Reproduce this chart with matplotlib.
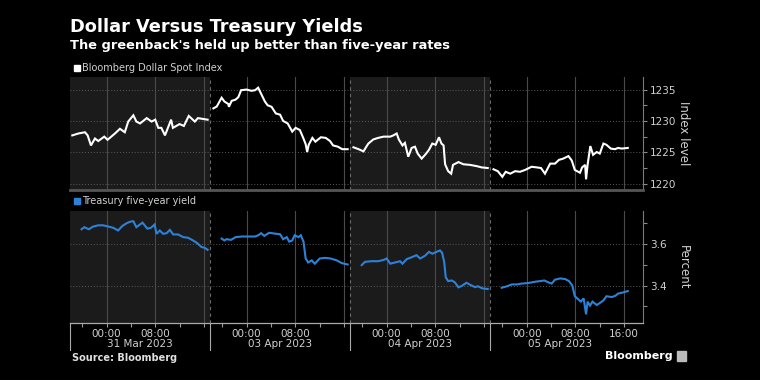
import numpy as np
import matplotlib.pyplot as plt
from matplotlib.patches import Rectangle
from matplotlib.transforms import blended_transform_factory

# Data -------------------------------------------------------------------------
# hours are counted from the 18:00 session open (previous day)

sessions = ["31 Mar 2023", "03 Apr 2023", "04 Apr 2023", "05 Apr 2023"]

dollar_mar31_h = [0.38, 1.37, 2.46, 2.9, 3.44, 4.1, 4.64, 5.63, 6.17, 7.38, 8.2, 9.0, 9.56, 10.4, 10.9,
                  11.5, 12.6, 13.4, 14.0, 14.5, 15.0, 15.6, 16.6, 16.9, 18.0, 18.7, 19.5, 20.5, 21.0, 22.6]
dollar_mar31 = [1227.7, 1228.0, 1228.2, 1227.7, 1226.1, 1227.2, 1226.8, 1227.5, 1227.0, 1228.0, 1228.75,
                1228.2, 1229.9, 1230.9, 1229.9, 1229.6, 1230.45, 1229.9, 1230.2, 1228.9, 1228.9, 1227.7,
                1230.2, 1228.9, 1229.5, 1229.2, 1230.8, 1229.9, 1230.45, 1230.2]

dollar_apr03_h = [0.55, 1.1, 1.9, 2.35, 3.0, 3.1, 3.55, 4.2, 4.65, 5.1, 6.0, 6.8, 7.4, 7.9, 8.4, 9.0, 9.45,
                  10.1, 10.8, 11.5, 12.0, 12.75, 13.5, 14.05, 14.75, 15.3, 15.7, 15.95, 16.2, 16.8, 17.3,
                  18.2, 19.0, 19.7, 20.2, 21.0, 21.7, 22.6]
dollar_apr03 = [1232.0, 1232.3, 1233.7, 1233.1, 1232.7, 1232.25, 1233.2, 1233.4, 1233.8, 1234.9, 1235.0,
                1234.8, 1234.9, 1235.3, 1234.3, 1233.1, 1232.5, 1232.25, 1231.2, 1231.0, 1230.0, 1229.6,
                1228.3, 1228.9, 1228.55, 1227.3, 1226.3, 1225.05, 1226.2, 1227.3, 1226.7, 1227.4, 1227.3,
                1226.8, 1226.1, 1225.9, 1225.5, 1225.5]

dollar_apr04_h = [0.55, 1.4, 2.2, 2.6, 3.0, 3.8, 4.6, 5.5, 6.6, 7.1, 7.65, 8.0, 8.6, 9.0, 9.55, 10.1, 10.65,
                  11.1, 11.75, 12.4, 12.95, 13.5, 14.05, 14.6, 15.0, 15.35, 15.6, 16.1, 16.6, 16.9, 17.8,
                  18.6, 19.7, 20.8, 21.6, 22.6]
dollar_apr04 = [1225.8, 1225.5, 1225.15, 1225.8, 1226.4, 1227.05, 1227.3, 1227.5, 1227.5, 1227.7, 1228.0,
                1227.05, 1226.1, 1226.5, 1224.3, 1225.7, 1225.9, 1224.8, 1224.0, 1224.7, 1225.4, 1226.4,
                1226.2, 1227.4, 1226.4, 1226.1, 1223.1, 1222.0, 1221.6, 1223.0, 1223.45, 1223.1, 1223.0,
                1222.8, 1222.6, 1222.5]

dollar_apr05_h = [0.55, 1.25, 2.0, 2.55, 3.3, 4.1, 4.9, 5.75, 6.8, 7.65, 8.35, 9.0, 9.85, 10.65, 11.3, 12.0,
                  12.85, 13.4, 13.9, 14.75, 15.1, 15.6, 15.75, 16.0, 16.45, 16.9, 17.5, 18.0, 18.6, 19.1,
                  19.8, 20.5, 21.0, 21.6, 22.6]
dollar_apr05 = [1222.3, 1222.0, 1221.1, 1221.9, 1221.6, 1222.0, 1221.9, 1222.2, 1222.7, 1222.6, 1222.5,
                1221.6, 1223.2, 1223.2, 1223.8, 1224.0, 1224.4, 1223.7, 1222.2, 1221.75, 1222.6, 1223.0,
                1220.7, 1223.0, 1226.0, 1224.6, 1225.05, 1224.8, 1226.4, 1226.2, 1225.6, 1225.5, 1225.7,
                1225.6, 1225.7]

yield_mar31_h = [1.9, 2.35, 3.1, 3.8, 4.65, 5.45, 6.3, 7.1, 7.9, 8.6, 9.3, 9.85, 10.4, 10.9, 11.9, 12.7,
                 13.3, 13.9, 14.2, 14.75, 15.3, 15.85, 16.4, 16.95, 17.75, 18.6, 19.4, 20.2, 20.9, 21.6,
                 22.1, 22.6]
yield_mar31 = [3.672, 3.682, 3.672, 3.685, 3.691, 3.691, 3.685, 3.679, 3.666, 3.688, 3.701, 3.708, 3.711,
               3.682, 3.704, 3.675, 3.679, 3.695, 3.65, 3.666, 3.65, 3.653, 3.669, 3.647, 3.647, 3.634,
               3.631, 3.618, 3.605, 3.586, 3.583, 3.573]

yield_apr03_h = [1.9, 2.35, 2.7, 3.45, 4.2, 5.2, 6.3, 7.4, 7.9, 8.4, 8.9, 9.7, 10.65, 11.5, 12.0, 12.6,
                 13.0, 13.5, 13.9, 14.5, 14.9, 15.35, 15.7, 16.1, 16.7, 17.2, 18.0, 18.9, 19.8, 20.8,
                 21.6, 22.6]
yield_apr03 = [3.627, 3.618, 3.624, 3.621, 3.634, 3.637, 3.637, 3.637, 3.643, 3.653, 3.640, 3.655, 3.651,
               3.648, 3.624, 3.634, 3.612, 3.618, 3.643, 3.634, 3.643, 3.612, 3.531, 3.512, 3.522, 3.506,
               3.531, 3.534, 3.531, 3.522, 3.509, 3.502]

yield_apr04_h = [1.9, 2.45, 3.55, 4.65, 5.6, 6.0, 6.6, 7.4, 8.2, 8.6, 9.3, 10.1, 10.9, 11.5, 12.3, 12.95,
                 13.5, 14.2, 14.75, 15.1, 15.45, 15.7, 16.1, 16.7, 17.2, 17.8, 18.3, 19.1, 19.8, 20.5,
                 21.0, 21.7, 22.6]
yield_apr04 = [3.499, 3.515, 3.518, 3.518, 3.525, 3.531, 3.506, 3.512, 3.518, 3.506, 3.528, 3.537, 3.547,
               3.531, 3.544, 3.563, 3.554, 3.563, 3.570, 3.559, 3.515, 3.441, 3.422, 3.425, 3.416, 3.392,
               3.398, 3.414, 3.403, 3.393, 3.397, 3.387, 3.384]

yield_apr05_h = [1.9, 2.75, 3.55, 4.4, 5.2, 6.3, 7.4, 8.2, 8.9, 9.55, 10.1, 10.65, 11.5, 12.3, 12.95,
                 13.5, 13.9, 14.4, 14.9, 15.35, 15.75, 16.0, 16.4, 16.8, 17.5, 18.0, 18.6, 19.1, 20.0,
                 20.6, 21.0, 21.8, 22.6]
yield_apr05 = [3.390, 3.397, 3.406, 3.406, 3.410, 3.413, 3.419, 3.422, 3.425, 3.416, 3.410, 3.429, 3.435,
               3.432, 3.422, 3.400, 3.349, 3.336, 3.323, 3.339, 3.262, 3.323, 3.304, 3.323, 3.307, 3.316,
               3.329, 3.349, 3.345, 3.352, 3.362, 3.367, 3.374]

dollar = [(dollar_mar31_h, dollar_mar31), (dollar_apr03_h, dollar_apr03),
          (dollar_apr04_h, dollar_apr04), (dollar_apr05_h, dollar_apr05)]
yields = [(yield_mar31_h, yield_mar31), (yield_apr03_h, yield_apr03),
          (yield_apr04_h, yield_apr04), (yield_apr05_h, yield_apr05)]

SESSION = 23.0      # hours per trading session (18:00 -> 17:00)
XMAX = 3 * SESSION + 25.1

BLUE = "#2d82d8"
SHADE = "#1b1b1b"
TXT = "#d0d0d0"

# Helpers ----------------------------------------------------------------------

def style_panel(ax, ylim, major, minor, ylabel):
    """dark bloomberg style panel with the y axis on the right"""
    ax.set_facecolor("black")
    ax.set_xlim(0, XMAX)
    ax.set_ylim(*ylim)
    for k in (0, 2):
        ax.axvspan(k * SESSION, (k + 1) * SESSION, color=SHADE, lw=0, zorder=0)
    for k in range(4):
        for h in (6, 14, 22):
            x = k * SESSION + h
            if x < XMAX:
                ax.axvline(x, color="#4a4a4a", lw=0.8, zorder=1)
        if k > 0:
            ax.axvline(k * SESSION, color="#6a6a6a", lw=0.8, ls=(0, (3, 3)), zorder=1)
    for y in major:
        ax.axhline(y, color="#5a5a5a", lw=0.7, ls=(0, (1, 2)), zorder=1)

    ax.yaxis.tick_right()
    ax.set_yticks(major)
    ax.set_yticks(minor, minor=True)
    ax.tick_params(axis="y", which="both", colors="#8a8a8a", labelcolor=TXT,
                   labelsize=7.5, length=3, width=0.8, pad=2)
    for s in ("left", "top"):
        ax.spines[s].set_visible(False)
    ax.spines["right"].set_color("#7a7a7a")
    ax.text(1.07, 0.5, ylabel, transform=ax.transAxes, rotation=270,
            ha="center", va="center", color=TXT, fontsize=8.5)

def draw_series(ax, series, color):
    for k, (hrs, vals) in enumerate(series):
        x = np.array(hrs) + k * SESSION
        ax.plot(x, vals, color=color, lw=1.5, zorder=3, solid_joinstyle="miter")

# Figure -----------------------------------------------------------------------

fig = plt.figure(figsize=(7.6, 3.8), dpi=100, facecolor="black")
W, H = 760.0, 380.0
ax1 = fig.add_axes([70 / W, 1 - 190 / H, 573 / W, 113 / H])
ax2 = fig.add_axes([70 / W, 1 - 323 / H, 573 / W, 112 / H])

style_panel(ax1, (1219.0, 1237.0), [1220, 1225, 1230, 1235],
            [1222.5, 1227.5, 1232.5], "Index level")
style_panel(ax2, (3.22, 3.76), [3.4, 3.6], [3.3, 3.5, 3.7], "Percent")
ax2.set_yticklabels(["3.4", "3.6"])

draw_series(ax1, dollar, "white")
draw_series(ax2, yields, BLUE)

# top panel x axis: just a grey bar
ax1.tick_params(axis="x", length=0, labelbottom=False)
ax1.spines["bottom"].set_color("#555555")
ax1.spines["bottom"].set_linewidth(2)

# bottom panel x axis: ticks every 4 hours, labels at 00:00 / 08:00
ticks, labels = [], []
for k in range(4):
    for h, lab in ((2, ""), (6, "00:00"), (10, ""), (14, "08:00"), (18, ""), (22, "")):
        x = k * SESSION + h
        if x < XMAX:
            ticks.append(x)
            labels.append("16:00" if (k == 3 and h == 22) else lab)
ax2.set_xticks(ticks, labels=labels)
ax2.tick_params(axis="x", colors="#9a9a9a", labelcolor=TXT, labelsize=7.5,
                length=3, width=0.8, pad=1.5)
ax2.spines["bottom"].set_color("#aaaaaa")
ax2.spines["bottom"].set_linewidth(0.9)

trans = blended_transform_factory(ax2.transData, ax2.transAxes)
for k in range(4):
    ax2.plot([k * SESSION, k * SESSION], [0, -0.245], transform=trans,
             color="#aaaaaa", lw=0.8, clip_on=False)
    ax2.text(k * SESSION + 11.5, -0.19, sessions[k], transform=trans,
             ha="center", va="center", color=TXT, fontsize=7.5)

# Text -------------------------------------------------------------------------

fig.text(70 / W, 1 - 27 / H, "Dollar Versus Treasury Yields", color="white",
         fontsize=12.8, fontweight="bold", va="center")
fig.text(70 / W, 1 - 46 / H, "The greenback's held up better than five-year rates",
         color="white", fontsize=9.4, fontweight="bold", va="center")

fig.patches.append(Rectangle((74 / W, 1 - 71 / H), 6 / W, 6 / H, color="white",
                             transform=fig.transFigure))
fig.text(82 / W, 1 - 68 / H, "Bloomberg Dollar Spot Index", color=TXT,
         fontsize=7, va="center")
fig.patches.append(Rectangle((74 / W, 1 - 204 / H), 6 / W, 6 / H, color=BLUE,
                             transform=fig.transFigure))
fig.text(82 / W, 1 - 201 / H, "Treasury five-year yield", color=TXT,
         fontsize=7, va="center")

fig.text(72 / W, 1 - 358 / H, "Source: Bloomberg", color="#e0e0e0",
         fontsize=7, fontweight="bold", va="center")
fig.text(673 / W, 1 - 356 / H, "Bloomberg", color="white", fontsize=8,
         fontweight="bold", va="center", ha="right")
fig.patches.append(Rectangle((677 / W, 1 - 361 / H), 9 / W, 10 / H, color="#bbbbbb",
                             transform=fig.transFigure))

fig.savefig("out.png", dpi=100, facecolor="black")
